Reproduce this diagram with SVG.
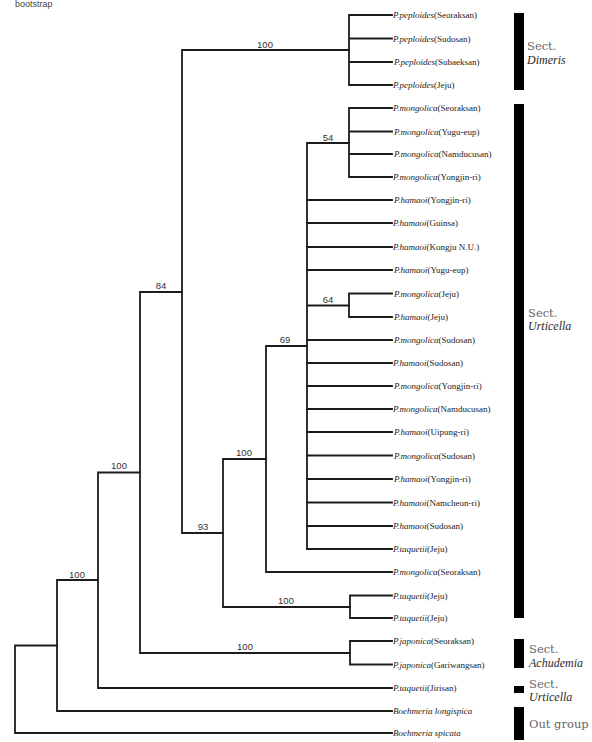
<svg xmlns="http://www.w3.org/2000/svg" width="592" height="742" viewBox="0 0 592 742">
<style>
.br{fill:none;stroke:#1c1c1c;stroke-width:1.8;stroke-linecap:square}
.lf{font-family:"Liberation Serif","Times New Roman",serif;font-size:9px;fill:#222}
.sp{font-style:italic}
.bs{font-family:"Liberation Sans",Arial,sans-serif;font-size:9.5px;fill:#333;text-anchor:middle}
.sc{font-family:"DejaVu Serif",serif;font-size:11.5px;fill:#666}
.sn{font-family:"Liberation Serif","Times New Roman",serif;font-size:12px;font-style:italic;fill:#2a2a2a}
.bar{fill:#000}
</style>
<rect width="592" height="742" fill="#fff"/>
<text x="15" y="7" font-family="Liberation Sans,Arial,sans-serif" font-size="9" fill="#444">bootstrap</text>
<g id="connectors" class="br">
<path d="M15,645.5V733M15,645.5H57M15,733H392"/>
<path d="M57,580V711M57,580H98M57,711H392"/>
<path d="M98,472.5V688M98,472.5H140M98,688H392"/>
<path d="M140,292V653M140,292H182M140,653H350"/>
<path d="M350,641V664.5M350,641H392M350,664.5H392"/>
<path d="M182,50V533M182,50H349M182,533H223"/>
<path d="M349,15V85M349,15H392M349,38.5H392M349,62H392M349,85H392"/>
<path d="M223,459V607M223,459H266M223,607H350"/>
<path d="M350,595.5V618M350,595.5H392M350,618H392"/>
<path d="M266,346V572M266,346H307M266,572H392"/>
<path d="M307,143V549M307,143H349M307,305.5H349"/>
<path d="M349,108V177M349,108H392M349,131.5H392M349,154H392M349,177H392"/>
<path d="M349,293.5V317M349,293.5H392M349,317H392"/>
<path d="M307,200H392M307,223H392M307,247H392M307,270H392M307,340H392M307,363H392M307,386H392M307,409H392M307,432H392M307,455.5H392M307,479H392M307,502.5H392M307,526H392M307,549H392"/>
</g>
<g id="support-values">
<text class="bs" x="265" y="48">100</text>
<text class="bs" x="161" y="289">84</text>
<text class="bs" x="328" y="141">54</text>
<text class="bs" x="328" y="303">64</text>
<text class="bs" x="285" y="343">69</text>
<text class="bs" x="244" y="456">100</text>
<text class="bs" x="203" y="530">93</text>
<text class="bs" x="286" y="604">100</text>
<text class="bs" x="119" y="469">100</text>
<text class="bs" x="245" y="650">100</text>
<text class="bs" x="77" y="578">100</text>
</g>
<g id="leaves" class="lf">
<text id="leaf01" x="393" y="18"><tspan class="sp">P.peploides</tspan>(Seoraksan)</text>
<text id="leaf02" x="393" y="41.5"><tspan class="sp">P.peploides</tspan>(Sudosan)</text>
<text id="leaf03" x="394" y="65"><tspan class="sp">P.peploides</tspan>(Subaeksan)</text>
<text id="leaf04" x="393" y="88"><tspan class="sp">P.peploides</tspan>(Jeju)</text>
<text id="leaf05" x="393" y="111"><tspan class="sp">P.mongolica</tspan>(Seoraksan)</text>
<text id="leaf06" x="394" y="134.5"><tspan class="sp">P.mongolica</tspan>(Yugu-eup)</text>
<text id="leaf07" x="394" y="157"><tspan class="sp">P.mongolica</tspan>(Namducusan)</text>
<text id="leaf08" x="393" y="180"><tspan class="sp">P.mongolica</tspan>(Yongjin-ri)</text>
<text id="leaf09" x="394" y="203"><tspan class="sp">P.hamaoi</tspan>(Yongjin-ri)</text>
<text id="leaf10" x="393" y="226"><tspan class="sp">P.hamaoi</tspan>(Guinsa)</text>
<text id="leaf11" x="393" y="250"><tspan class="sp">P.hamaoi</tspan>(Kongju N.U.)</text>
<text id="leaf12" x="394" y="273"><tspan class="sp">P.hamaoi</tspan>(Yugu-eup)</text>
<text id="leaf13" x="394" y="296.5"><tspan class="sp">P.mongolica</tspan>(Jeju)</text>
<text id="leaf14" x="394" y="320"><tspan class="sp">P.hamaoi</tspan>(Jeju)</text>
<text id="leaf15" x="394" y="343"><tspan class="sp">P.mongolica</tspan>(Sudosan)</text>
<text id="leaf16" x="393" y="366"><tspan class="sp">P.hamaoi</tspan>(Sudosan)</text>
<text id="leaf17" x="394" y="389"><tspan class="sp">P.mongolica</tspan>(Yongjin-ri)</text>
<text id="leaf18" x="393" y="412"><tspan class="sp">P.mongolica</tspan>(Namducusan)</text>
<text id="leaf19" x="394" y="435"><tspan class="sp">P.hamaoi</tspan>(Uipung-ri)</text>
<text id="leaf20" x="394" y="458.5"><tspan class="sp">P.mongolica</tspan>(Sudosan)</text>
<text id="leaf21" x="394" y="482"><tspan class="sp">P.hamaoi</tspan>(Yongjin-ri)</text>
<text id="leaf22" x="393" y="505.5"><tspan class="sp">P.hamaoi</tspan>(Namcheon-ri)</text>
<text id="leaf23" x="393" y="529"><tspan class="sp">P.hamaoi</tspan>(Sudosan)</text>
<text id="leaf24" x="393" y="552"><tspan class="sp">P.taquetii</tspan>(Jeju)</text>
<text id="leaf25" x="393" y="575"><tspan class="sp">P.mongolica</tspan>(Seoraksan)</text>
<text id="leaf26" x="393" y="598.5"><tspan class="sp">P.taquetii</tspan>(Jeju)</text>
<text id="leaf27" x="393" y="621"><tspan class="sp">P.taquetii</tspan>(Jeju)</text>
<text id="leaf28" x="393" y="644"><tspan class="sp">P.japonica</tspan>(Seoraksan)</text>
<text id="leaf29" x="393" y="667.5"><tspan class="sp">P.japonica</tspan>(Gariwangsan)</text>
<text id="leaf30" x="393" y="691"><tspan class="sp">P.taquetii</tspan>(Jirisan)</text>
<text id="leaf31" x="393" y="714"><tspan class="sp">Boehmeria longispica</tspan></text>
<text id="leaf32" x="393" y="736"><tspan class="sp">Boehmeria spicata</tspan></text>
</g>
<g id="sect-dimeris">
<rect class="bar" x="514" y="13" width="10" height="77"/>
<text class="sc" x="527" y="50">Sect.</text>
<text class="sn" x="527" y="64">Dimeris</text>
</g>
<g id="sect-urticella">
<rect class="bar" x="514" y="104" width="10" height="514"/>
<text class="sc" x="528" y="317">Sect.</text>
<text class="sn" x="528" y="330">Urticella</text>
</g>
<g id="sect-achudemia">
<rect class="bar" x="514" y="639" width="10" height="29"/>
<text class="sc" x="529" y="653">Sect.</text>
<text class="sn" x="529" y="667">Achudemia</text>
</g>
<g id="sect-urticella-2">
<rect class="bar" x="514" y="686" width="10" height="7"/>
<text class="sc" x="529" y="688">Sect.</text>
<text class="sn" x="529" y="701">Urticella</text>
</g>
<g id="outgroup">
<rect class="bar" x="514" y="707" width="10" height="33"/>
<text class="sc" x="529" y="728">Out group</text>
</g>
</svg>
